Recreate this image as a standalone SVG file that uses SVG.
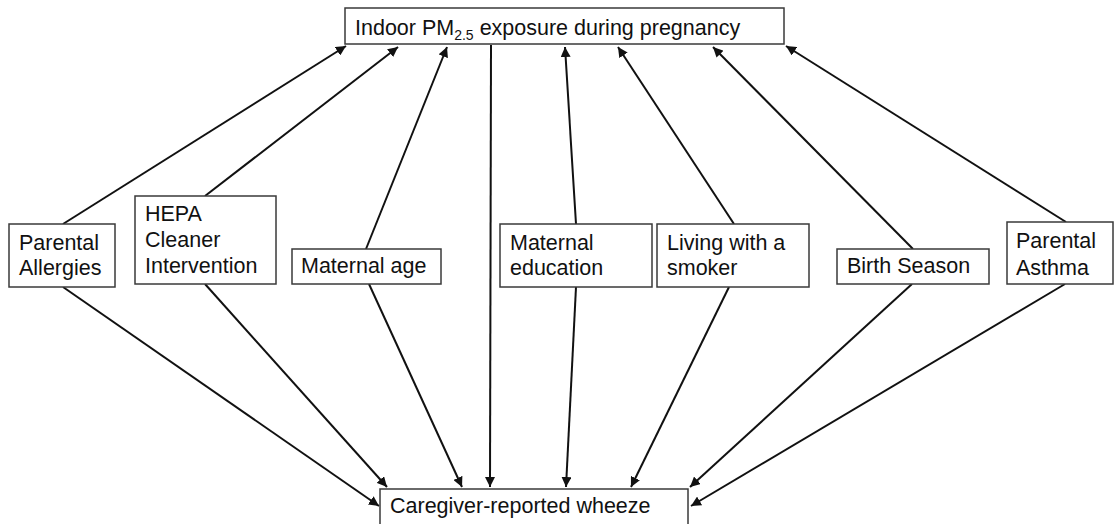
<svg xmlns="http://www.w3.org/2000/svg" width="1119" height="524" viewBox="0 0 1119 524">
<style>
.box{fill:#fff;stroke:#3a3a3a;stroke-width:1.5}
.t{font-family:"Liberation Sans",Arial,sans-serif;font-size:21.5px;fill:#111}
.sub{font-size:14px}
.e{stroke:#111;stroke-width:2;fill:none;marker-end:url(#ah)}
</style>
<defs>
<marker id="ah" viewBox="0 0 10 10" refX="10" refY="5" markerWidth="5" markerHeight="5" markerUnits="strokeWidth" orient="auto">
<path d="M0,0 L10,5 L0,10 z" fill="#111"/>
</marker>
</defs>
<rect width="1119" height="524" fill="#fff"/>
<g id="connectors">
<line class="e" x1="63" y1="224" x2="346" y2="46"/>
<line class="e" x1="205" y1="196" x2="398" y2="47"/>
<line class="e" x1="366" y1="249" x2="447" y2="47"/>
<line class="e" x1="576" y1="224" x2="565" y2="47"/>
<line class="e" x1="734" y1="224" x2="618" y2="47"/>
<line class="e" x1="913" y1="249" x2="713" y2="47"/>
<line class="e" x1="1066" y1="222" x2="786" y2="46"/>
<line class="e" x1="491" y1="45" x2="490" y2="487"/>
<line class="e" x1="63" y1="287" x2="379" y2="506"/>
<line class="e" x1="205" y1="284" x2="387" y2="487"/>
<line class="e" x1="369" y1="284" x2="462" y2="487"/>
<line class="e" x1="576" y1="287" x2="566" y2="487"/>
<line class="e" x1="729" y1="287" x2="631" y2="487"/>
<line class="e" x1="912" y1="284" x2="690" y2="487"/>
<line class="e" x1="1065" y1="284" x2="691" y2="506"/>
</g>
<g id="exposure">
<rect class="box" x="345" y="8" width="439" height="36"/>
<text class="t" x="355" y="35">Indoor PM<tspan class="sub" dy="5">2.5</tspan><tspan dy="-5"> exposure during pregnancy</tspan></text>
</g>
<g id="wheeze">
<rect class="box" x="380" y="489" width="308" height="45"/>
<text class="t" x="390" y="513">Caregiver-reported wheeze</text>
</g>
<g id="parental-allergies">
<rect class="box" x="9" y="224" width="106" height="63"/>
<text class="t" x="19" y="250">Parental</text>
<text class="t" x="19" y="275">Allergies</text>
</g>
<g id="hepa">
<rect class="box" x="135" y="196" width="141" height="88"/>
<text class="t" x="145" y="221">HEPA</text>
<text class="t" x="145" y="247">Cleaner</text>
<text class="t" x="145" y="273">Intervention</text>
</g>
<g id="maternal-age">
<rect class="box" x="292" y="249" width="149" height="35"/>
<text class="t" x="301" y="273">Maternal age</text>
</g>
<g id="maternal-education">
<rect class="box" x="500" y="224" width="152" height="63"/>
<text class="t" x="510" y="250">Maternal</text>
<text class="t" x="510" y="275">education</text>
</g>
<g id="smoker">
<rect class="box" x="657" y="224" width="152" height="63"/>
<text class="t" x="667" y="250">Living with a</text>
<text class="t" x="667" y="275">smoker</text>
</g>
<g id="birth-season">
<rect class="box" x="837" y="249" width="152" height="35"/>
<text class="t" x="847" y="273">Birth Season</text>
</g>
<g id="parental-asthma">
<rect class="box" x="1007" y="222" width="106" height="62"/>
<text class="t" x="1016" y="248">Parental</text>
<text class="t" x="1016" y="275">Asthma</text>
</g>
</svg>
